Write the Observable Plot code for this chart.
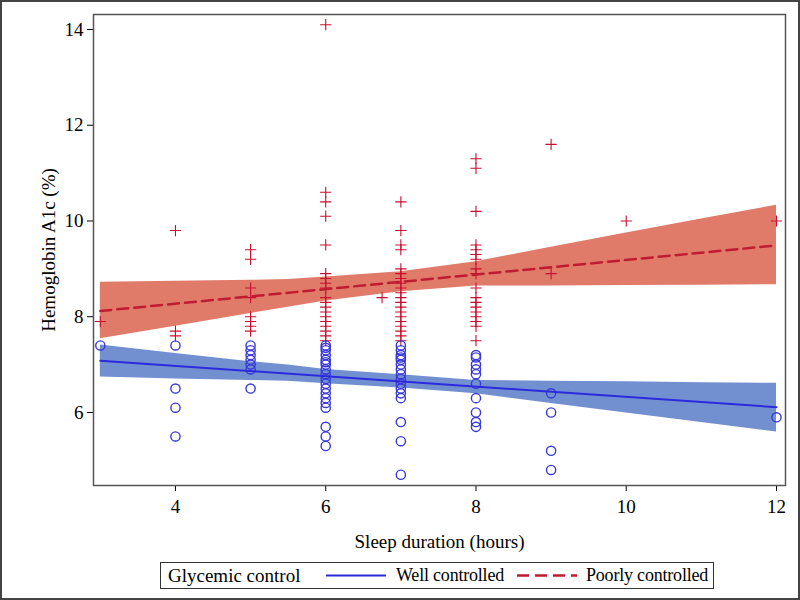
<!DOCTYPE html>
<html>
<head>
<meta charset="utf-8">
<script src="https://cdn.jsdelivr.net/npm/d3@7"></script>
<script src="https://cdn.jsdelivr.net/npm/@observablehq/plot@0.6"></script>
<style>
  body { margin: 0; background: #fff; }
  #wrap { position: relative; width: 800px; height: 600px; overflow: hidden; font-family: "Liberation Serif", "Times New Roman", serif; }
  #border { position: absolute; left: 0; top: 0; width: 800px; height: 600px; box-sizing: border-box; border: 2px solid #444; pointer-events: none; }
  #chart { position: absolute; left: 0; top: 0; }
  #legend { position: absolute; left: 160px; top: 562px; width: 554px; height: 27px; box-sizing: border-box; border: 1px solid #333; font-size: 19px; line-height: 25px; color: #000; white-space: nowrap; }
  #legend span, #legend svg { position: absolute; top: 0; white-space: nowrap; }
  #legend span.s { font-size: 18px; letter-spacing: -0.2px; }
</style>
</head>
<body>
<div id="wrap">
  <div id="chart"></div>
  <div id="legend">
    <span style="left:7px">Glycemic control</span>
    <svg style="left:165px" width="62" height="25"><line x1="0" x2="60" y1="12.5" y2="12.5" stroke="#2b2bdc" stroke-width="2"/></svg>
    <span class="s" style="left:235px">Well controlled</span>
    <svg style="left:356px" width="62" height="25"><line x1="0" x2="60" y1="12.5" y2="12.5" stroke="#c01c30" stroke-width="2.5" stroke-dasharray="12,6"/></svg>
    <span class="s" style="left:425px">Poorly controlled</span>
  </div>
  <div id="border"></div>
</div>
<script>
// ---- Data ----
const wellHours = [3, 4, 5, 6, 7, 8, 9, 12];
const wellA1c = [
  [7.4],
  [7.4, 6.5, 6.1, 5.5],
  [7.4, 7.3, 7.2, 7.1, 7.0, 6.9, 6.5],
  [7.4, 7.35, 7.3, 7.2, 7.1, 7.05, 7.0, 6.9, 6.8, 6.7, 6.6, 6.5, 6.4, 6.3, 6.2, 6.1, 5.7, 5.5, 5.3],
  [7.4, 7.3, 7.2, 7.15, 7.1, 7.0, 6.9, 6.8, 6.7, 6.6, 6.5, 6.4, 6.3, 5.8, 5.4, 4.7],
  [7.2, 7.15, 7.0, 6.9, 6.8, 6.6, 6.3, 6.0, 5.8, 5.7],
  [6.4, 6.0, 5.2, 4.8],
  [5.9]
];
const poorHours = [3, 4, 5, 6, 6.75, 7, 8, 9, 10, 12];
const poorA1c = [
  [7.9],
  [9.8, 7.7, 7.6],
  [9.4, 9.2, 8.6, 8.4, 8.0, 7.9, 7.8, 7.7],
  [14.1, 10.6, 10.4, 10.1, 9.5, 8.9, 8.8, 8.7, 8.6, 8.4, 8.3, 8.2, 8.1, 8.0, 7.9, 7.8, 7.7, 7.6, 7.5],
  [8.4],
  [10.4, 9.8, 9.5, 9.4, 9.0, 8.9, 8.8, 8.7, 8.6, 8.5, 8.4, 8.3, 8.2, 8.1, 8.0, 7.9, 7.8, 7.7, 7.6, 7.5],
  [11.3, 11.1, 10.2, 9.5, 9.4, 9.3, 9.2, 9.0, 8.9, 8.6, 8.4, 8.3, 8.2, 8.1, 8.0, 7.9, 7.8, 7.5],
  [11.6, 8.9],
  [10.0],
  [10.0]
];
// fitted lines (endpoints) and confidence bands
const fitHours = [3, 12];
const wellFit = [7.08, 6.11];
const poorFit = [8.12, 9.49];
const bandHours = [3, 4, 5, 5.5, 6, 7, 8, 9, 10, 11, 12];
const wellLower = [6.74, 6.70, 6.67, 6.65, 6.60, 6.51, 6.39, 6.19, 5.99, 5.79, 5.59];
const wellUpper = [7.41, 7.23, 7.06, 6.99, 6.90, 6.79, 6.67, 6.65, 6.64, 6.62, 6.61];
const poorLower = [7.54, 7.80, 8.07, 8.20, 8.33, 8.52, 8.64, 8.64, 8.65, 8.66, 8.67];
const poorUpper = [8.72, 8.74, 8.76, 8.78, 8.83, 8.94, 9.15, 9.45, 9.75, 10.04, 10.33];
const xTicks = [4, 6, 8, 10, 12];
const yTicks = [6, 8, 10, 12, 14];

// ---- Build tables ----
const flat = (hours, vals) => hours.flatMap((h, i) => vals[i].map(v => ({x: h, y: v})));
const wellPts = flat(wellHours, wellA1c);
const poorPts = flat(poorHours, poorA1c);
const band = (lo, hi) => bandHours.map((h, i) => ({x: h, lo: lo[i], hi: hi[i]}));
const line = (vals) => fitHours.map((h, i) => ({x: h, y: vals[i]}));

const font = "Liberation Serif, Times New Roman, serif";
const chart = Plot.plot({
  width: 800,
  height: 555,
  marginLeft: 93,
  marginRight: 15,
  marginTop: 14,
  marginBottom: 70,
  style: {fontFamily: font, fontSize: "19px", color: "#000", background: "transparent"},
  x: {domain: [2.909, 12.12]},
  y: {domain: [4.475, 14.313]},
  marks: [
    Plot.areaY(band(poorLower, poorUpper), {x: "x", y1: "lo", y2: "hi", fill: "#e07b6a"}),
    Plot.areaY(band(wellLower, wellUpper), {x: "x", y1: "lo", y2: "hi", fill: "#7290d0"}),
    Plot.dot(poorPts, {x: "x", y: "y", symbol: "plus", r: 3.7, stroke: "#c8102e", strokeWidth: 1.1}),
    Plot.dot(wellPts, {x: "x", y: "y", symbol: "circle", r: 4.6, stroke: "#3838d8", strokeWidth: 1.4, fill: "none"}),
    Plot.line(line(wellFit), {x: "x", y: "y", stroke: "#2b2bdc", strokeWidth: 2}),
    Plot.line(line(poorFit), {x: "x", y: "y", stroke: "#c01c30", strokeWidth: 2.5, strokeDasharray: "11,6"}),
    Plot.axisX({ticks: xTicks, tickSize: 6, tickPadding: 8, label: "Sleep duration (hours)", labelAnchor: "center", labelOffset: 62, labelArrow: "none", fontSize: 19}),
    Plot.axisY({ticks: yTicks, tickSize: 6, tickPadding: 4, label: "Hemoglobin A1c (%)", labelAnchor: "center", labelOffset: 52, labelArrow: "none", fontSize: 19}),
    Plot.frame({stroke: "#555", strokeWidth: 1.5})
  ]
});
document.getElementById("chart").appendChild(chart);
</script>
</body>
</html>
